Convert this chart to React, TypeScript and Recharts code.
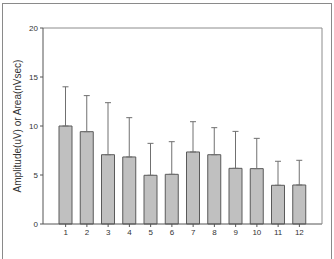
import React from "react";
import { BarChart, Bar, XAxis, YAxis, ErrorBar, ReferenceLine } from "recharts";

// data -----------------------------------------------------------------------
const categories = ["1", "2", "3", "4", "5", "6", "7", "8", "9", "10", "11", "12"];
const means = [10.0, 9.42, 7.07, 6.84, 4.97, 5.07, 7.35, 7.07, 5.68, 5.65, 3.95, 3.98];
const sds = [4.0, 3.68, 5.31, 4.01, 3.26, 3.33, 3.09, 2.76, 3.77, 3.09, 2.45, 2.52];
const yTicks = [0, 5, 10, 15, 20];
const yMax = 20;

// one-sided (upward) error bars
const data = categories.map((label, i) => ({
  label,
  value: means[i],
  err: [0, sds[i]],
}));

const AXIS = "#555";
const FRAME = "#8c8c8c";
const tickStyle = { fill: "#333", fontSize: 8, fontFamily: "Liberation Sans, Arial, sans-serif" };

const App: React.FC = () => {
  return (
    <div style={{ position: "absolute", left: 0, top: 0, width: 334, height: 259, background: "#fff", overflow: "hidden" }}>
      {/* outer picture frame */}
      <div
        style={{
          position: "absolute",
          left: 2,
          top: 3,
          width: 330,
          height: 270,
          border: "1px solid #8a8a8a",
          boxSizing: "border-box",
        }}
      />
      <div style={{ position: "absolute", left: 0, top: 0 }}>
        <BarChart width={334} height={259} data={data} margin={{ top: 28, right: 0, bottom: 5, left: 0 }}>
          <XAxis
            dataKey="label"
            padding={{ left: 12, right: 12 }}
            tick={tickStyle}
            tickSize={3}
            tickLine={{ stroke: AXIS }}
            axisLine={{ stroke: AXIS }}
            height={30}
            interval={0}
          />
          <YAxis
            domain={[0, yMax]}
            ticks={yTicks}
            width={43}
            tick={tickStyle}
            tickSize={3}
            tickLine={{ stroke: AXIS }}
            axisLine={{ stroke: AXIS }}
            label={{
              value: "Amplitude(uV) or Area(nVsec)",
              angle: -90,
              position: "insideLeft",
              offset: 17,
              style: { textAnchor: "middle", fill: "#333", fontSize: 10, fontFamily: "Liberation Sans, Arial, sans-serif" },
            }}
          />
          {/* right + top edges of the plot box */}
          <YAxis yAxisId="right" orientation="right" domain={[0, yMax]} ticks={yTicks} width={12} tick={false} tickLine={false} axisLine={{ stroke: FRAME }} />
          <ReferenceLine y={yMax} stroke={FRAME} />
          <Bar dataKey="value" fill="#c0c0c0" stroke="#5a5a5a" strokeWidth={1} barSize={13} isAnimationActive={false}>
            <ErrorBar dataKey="err" width={3} stroke="#707070" strokeWidth={1} direction="y" />
          </Bar>
        </BarChart>
      </div>
    </div>
  );
};

export default App;
